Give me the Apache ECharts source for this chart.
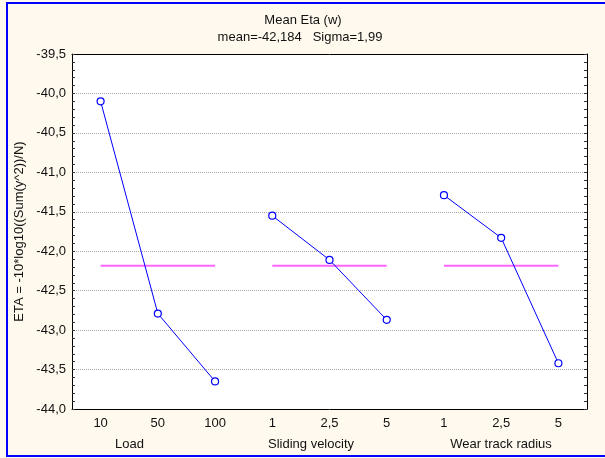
<!DOCTYPE html>
<html>
<head>
<meta charset="utf-8">
<script src="https://cdn.jsdelivr.net/npm/echarts@6/dist/echarts.min.js"></script>
<style>
  html, body { margin: 0; padding: 0; background: #FFF9EE; overflow: hidden; }
  #wrap { position: relative; width: 605px; height: 458px; overflow: hidden; }
  #chart { position: absolute; left: 0; top: 0; width: 605px; height: 458px; }
  #frame {
    position: absolute; left: 6px; top: 2px; width: 700px; height: 451px;
    border-left: 2px solid #0000FF; border-top: 2px solid #0000FF; border-bottom: 2px solid #0000FF;
    pointer-events: none;
  }
</style>
</head>
<body>
<div id="wrap">
  <div id="chart"></div>
  <div id="frame"></div>
</div>
<script>
// Main-effects plot: mean S/N ratio per factor level
const tickLabels = ['10', '50', '100', '1', '2,5', '5', '1', '2,5', '5'];
const factorNames = ['Load', 'Sliding velocity', 'Wear track radius'];
const loadEta = [-40.10, -42.79, -43.65];
const velocityEta = [-41.55, -42.11, -42.87];
const radiusEta = [-41.29, -41.83, -43.42];
const grandMean = -42.184;
const sigma = 1.99;
const yTicks = { min: -44.0, max: -39.5, step: 0.5 };

const groups = [loadEta, velocityEta, radiusEta];
const comma = v => v.toString().replace('.', ',');
const fontFamily = '"Liberation Sans", Arial, sans-serif';
const fs = 13;

const series = [];
groups.forEach((vals, g) => {
  series.push({
    type: 'line',
    data: vals.map((v, i) => [g * 3 + i, v]),
    lineStyle: { color: '#0000FF', width: 1 },
    itemStyle: { color: '#FFFFFF', borderColor: '#0000FF', borderWidth: 1.2 },
    symbol: 'circle',
    symbolSize: 7,
    animation: false,
    z: 3
  });
  series.push({
    type: 'line',
    data: [[g * 3, grandMean], [g * 3 + 2, grandMean]],
    lineStyle: { color: '#FF66FF', width: 2 },
    symbol: 'none',
    animation: false,
    z: 2
  });
});

const chart = echarts.init(document.getElementById('chart'), null, { renderer: 'canvas' });
chart.setOption({
  backgroundColor: '#FFF9EE',
  animation: false,
  textStyle: { fontFamily },
  grid: {
    left: 72, top: 54, width: 515, height: 355,
    show: true, backgroundColor: '#FFFFFF', borderWidth: 0
  },
  xAxis: [{
    type: 'category',
    data: tickLabels.map((t, i) => String(i)),
    position: 'bottom',
    boundaryGap: true,
    axisLine: { lineStyle: { color: '#000', width: 1 } },
    axisTick: { inside: true, length: 3, alignWithLabel: true, lineStyle: { color: '#333' } },
    axisLabel: {
      formatter: (v, i) => tickLabels[i],
      color: '#111', fontSize: fs, fontFamily, margin: 8
    },
    splitLine: { show: false }
  }, {
    type: 'category',
    data: tickLabels.map((t, i) => String(i)),
    position: 'top',
    boundaryGap: true,
    axisLine: { lineStyle: { color: '#000', width: 1 } },
    axisTick: { inside: true, length: 3, alignWithLabel: true, lineStyle: { color: '#333' } },
    axisLabel: { show: false },
    splitLine: { show: false }
  }],
  yAxis: [{
    type: 'value',
    min: yTicks.min, max: yTicks.max, interval: yTicks.step,
    position: 'left',
    name: 'ETA = -10*log10((Sum(y^2))/N)',
    nameLocation: 'middle',
    nameGap: 45,
    nameRotate: 90,
    nameTextStyle: { color: '#111', fontSize: fs, fontFamily },
    axisLine: { show: true, lineStyle: { color: '#000', width: 1 } },
    axisTick: { show: true, inside: true, length: 3, lineStyle: { color: '#333' } },
    minorTick: { show: true, splitNumber: 5, length: 3, lineStyle: { color: '#333' } },
    axisLabel: {
      formatter: v => comma(v.toFixed(1)),
      color: '#111', fontSize: fs, fontFamily, margin: 6
    },
    splitLine: { show: true, lineStyle: { color: '#A8A8A8', type: [1, 1], width: 1 } }
  }, {
    type: 'value',
    min: yTicks.min, max: yTicks.max, interval: yTicks.step,
    position: 'right',
    axisLine: { show: true, lineStyle: { color: '#000', width: 1 } },
    axisTick: { show: true, inside: true, length: 3, lineStyle: { color: '#333' } },
    minorTick: { show: true, splitNumber: 5, length: 3, lineStyle: { color: '#333' } },
    axisLabel: { show: false },
    splitLine: { show: false }
  }],
  series,
  graphic: [
    {
      type: 'text', x: 303, y: 20,
      style: { text: 'Mean Eta (w)', fill: '#111', font: fs + 'px ' + fontFamily, textAlign: 'center', textVerticalAlign: 'middle' }
    },
    {
      type: 'text', x: 300, y: 37,
      style: { text: 'mean=' + comma(grandMean) + '   Sigma=' + comma(sigma), fill: '#111', font: fs + 'px ' + fontFamily, textAlign: 'center', textVerticalAlign: 'middle' }
    },
    {
      type: 'text', x: 129.5, y: 444,
      style: { text: factorNames[0], fill: '#111', font: fs + 'px ' + fontFamily, textAlign: 'center', textVerticalAlign: 'middle' }
    },
    {
      type: 'text', x: 311, y: 444,
      style: { text: factorNames[1], fill: '#111', font: fs + 'px ' + fontFamily, textAlign: 'center', textVerticalAlign: 'middle' }
    },
    {
      type: 'text', x: 501, y: 444,
      style: { text: factorNames[2], fill: '#111', font: fs + 'px ' + fontFamily, textAlign: 'center', textVerticalAlign: 'middle' }
    }
  ]
});
</script>
</body>
</html>
